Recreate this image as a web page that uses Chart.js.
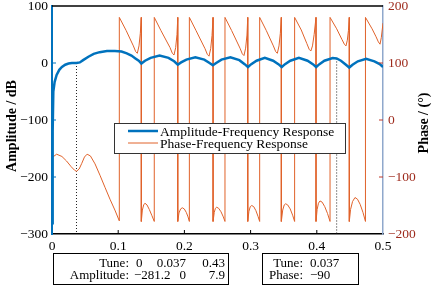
<!DOCTYPE html>
<html>
<head>
<meta charset="utf-8">
<script src="https://cdn.jsdelivr.net/npm/chart.js@4.4.1/dist/chart.umd.min.js"></script>
<style>
  html, body { margin: 0; padding: 0; background: #fff; }
</style>
</head>
<body>
<canvas id="freqChart" width="440" height="293"></canvas>
<script>
// Amplitude-frequency response (dB)
const ampX = [0, 0.001, 0.002, 0.004, 0.007, 0.011, 0.015, 0.02, 0.025, 0.03, 0.037, 0.042, 0.047, 0.055, 0.063, 0.072, 0.083, 0.095, 0.105, 0.113, 0.12, 0.126, 0.131, 0.135,
  0.1405, 0.149, 0.1625, 0.176, 0.1845, 0.19,
  0.195, 0.203, 0.2165, 0.23, 0.238, 0.243,
  0.248, 0.256, 0.2695, 0.283, 0.291, 0.296,
  0.301, 0.309, 0.3215, 0.334, 0.342, 0.347,
  0.352, 0.36, 0.373, 0.386, 0.394, 0.399,
  0.404, 0.4115, 0.424, 0.43, 0.4365, 0.444, 0.449,
  0.454, 0.462, 0.4745, 0.487, 0.495, 0.5];
const ampY = [-281.2, -120, -50, -33, -21, -12, -7, -3, -1, 0, 0, 1, 5, 11, 16, 19, 21, 21, 20, 17, 13, 8, 4, -1,
  4, 9, 13, 9, 3, -3,
  1, 6, 10, 6, 0, -4,
  0, 6, 10, 5, -2, -7,
  -2, 4, 9, 4, -2, -7,
  -2, 4, 9, 4, -2, -7,
  -2, 4, 8.7, 7.9, 4, -3, -8,
  -3, 3, 7.5, 3, -2, -7];

// Phase-frequency response (deg), wraps at +/-180
const phaseX = [0, 0.007, 0.015, 0.022, 0.029, 0.034, 0.037, 0.041, 0.045, 0.049, 0.053, 0.058, 0.065, 0.0725, 0.08, 0.0876, 0.095, 0.1017,
  0.1017, 0.112, 0.1229, 0.1264, 0.1289, 0.1314, 0.1334, 0.1349,
  0.1349, 0.1365, 0.1385, 0.1404, 0.1435, 0.147, 0.151, 0.1545,
  0.1545, 0.1645, 0.1783, 0.1818, 0.1843, 0.1868, 0.1888, 0.19,
  0.19, 0.1918, 0.1943, 0.1968, 0.1998, 0.2028, 0.2055, 0.2075,
  0.2075, 0.2175, 0.2312, 0.2347, 0.2372, 0.2397, 0.2417, 0.2433,
  0.2433, 0.2451, 0.2468, 0.2488, 0.2518, 0.2553, 0.2588, 0.2613,
  0.2613, 0.2713, 0.284, 0.2875, 0.29, 0.2925, 0.2945, 0.2957,
  0.2957, 0.2975, 0.2995, 0.3017, 0.3047, 0.308, 0.3112, 0.3137,
  0.3137, 0.3237, 0.3344, 0.3379, 0.3404, 0.3429, 0.3449, 0.3464,
  0.3464, 0.3485, 0.3508, 0.353, 0.356, 0.3598, 0.3635, 0.3665,
  0.3665, 0.3765, 0.385, 0.3885, 0.391, 0.3935, 0.396, 0.3988,
  0.3988, 0.4005, 0.4025, 0.4048, 0.408, 0.412, 0.4162, 0.42,
  0.42, 0.43, 0.4381, 0.4416, 0.4441, 0.4461, 0.4478, 0.4491,
  0.4491, 0.451, 0.454, 0.4577, 0.4615, 0.4655, 0.4697, 0.4735,
  0.4735, 0.4835, 0.4895, 0.493, 0.4955, 0.4975, 0.5];
const phaseY = [-66, -60, -64, -72, -82, -88, -90, -86, -76, -65, -60, -63, -77, -97, -118, -139, -158, -177,
  180, 157, 130, 120, 117, 130, 152, 180,
  -178, -158, -149, -146, -149, -157, -168, -178,
  180, 157, 127, 117, 114, 127, 150, 180,
  -178, -163, -156, -154, -156, -162, -170, -178,
  180, 157, 125, 115, 112, 125, 148, 180,
  -178, -162, -155, -153, -155, -161, -170, -178,
  180, 157, 126, 116, 113, 126, 149, 180,
  -178, -160, -152, -150, -152, -159, -169, -178,
  180, 157, 130, 120, 117, 130, 152, 180,
  -178, -158, -149, -147, -149, -156, -167, -178,
  180, 158, 134, 124, 121, 130, 150, 180,
  -178, -157, -146, -142, -144, -152, -164, -178,
  180, 160, 141, 133, 130, 140, 157, 180,
  -178, -157, -143, -136, -139, -148, -162, -178,
  180, 160, 146, 137, 133, 145, 170];

// data cursor readouts
const tuneVals = [0, 0.037, 0.43];
const ampVals = [-281.2, 0, 7.9];
const phaseTune = 0.037;
const phaseVal = -90;

const BLUE = '#0072BD';
const ORANGE = '#E0622A';
const DARKRED = '#9E2B1D';
const SERIF = '"Liberation Serif", "Times New Roman", serif';

const minus = v => String(v).replace('-', '\u2212');

const ampData = ampX.map((x, i) => ({ x: x, y: ampY[i] }));
const phaseData = phaseX.map((x, i) => ({ x: x, y: phaseY[i] }));

// dotted cursor lines at the 2nd and 3rd tune
const cursorSets = [1, 2].map(i => ({
  label: 'cursor' + i,
  data: [{ x: tuneVals[i], y: ampVals[i] }, { x: tuneVals[i], y: -300 }],
  yAxisID: 'y',
  borderColor: '#222',
  borderWidth: 1,
  borderDash: [1, 2],
  pointRadius: 0
}));

const decorPlugin = {
  id: 'decor',
  afterDraw(chart) {
    const { ctx, chartArea: a, scales } = chart;
    const sx = scales.x, sy = scales.y, sy2 = scales.y2;
    ctx.save();

    // top frame line
    ctx.strokeStyle = '#000';
    ctx.lineWidth = 1.5;
    ctx.beginPath();
    ctx.moveTo(a.left, a.top);
    ctx.lineTo(a.right, a.top);
    ctx.stroke();

    // inward ticks
    ctx.lineWidth = 1;
    ctx.strokeStyle = '#000';
    sx.ticks.forEach(t => {
      const px = sx.getPixelForValue(t.value);
      if (px <= a.left + 1 || px >= a.right - 1) return;
      ctx.beginPath(); ctx.moveTo(px, a.bottom); ctx.lineTo(px, a.bottom - 4); ctx.stroke();
    });
    ctx.strokeStyle = BLUE;
    sy.ticks.forEach(t => {
      const py = sy.getPixelForValue(t.value);
      if (py <= a.top + 1 || py >= a.bottom - 1) return;
      ctx.beginPath(); ctx.moveTo(a.left, py); ctx.lineTo(a.left + 4, py); ctx.stroke();
    });
    ctx.strokeStyle = '#C0392B';
    sy2.ticks.forEach(t => {
      const py = sy2.getPixelForValue(t.value);
      if (py <= a.top + 1 || py >= a.bottom - 1) return;
      ctx.beginPath(); ctx.moveTo(a.right, py); ctx.lineTo(a.right - 4, py); ctx.stroke();
    });

    // axis titles, both reading bottom to top
    ctx.fillStyle = '#000';
    ctx.font = 'bold 14px ' + SERIF;
    ctx.textAlign = 'center';
    ctx.textBaseline = 'middle';
    [['Amplitude / dB', 12, 126], ['Phase / (\u00B0)', 424, 123]].forEach(([txt, cx, cy]) => {
      ctx.save();
      ctx.translate(cx, cy);
      ctx.rotate(-Math.PI / 2);
      ctx.fillText(txt, 0, 0);
      ctx.restore();
    });

    // legend box inside the plot
    const lg = { x: 114, y: 123, w: 231, h: 30 };
    ctx.fillStyle = '#fff';
    ctx.fillRect(lg.x, lg.y, lg.w, lg.h);
    ctx.strokeStyle = '#333';
    ctx.lineWidth = 1;
    ctx.strokeRect(lg.x + 0.5, lg.y + 0.5, lg.w, lg.h);
    ctx.font = '13.5px ' + SERIF;
    ctx.textAlign = 'left';
    chart.data.datasets.slice(0, 2).forEach((ds, i) => {
      const yy = lg.y + 8 + i * 12;
      ctx.strokeStyle = ds.borderColor;
      ctx.lineWidth = ds.borderWidth;
      ctx.beginPath(); ctx.moveTo(lg.x + 14, yy); ctx.lineTo(lg.x + 44, yy); ctx.stroke();
      ctx.fillStyle = '#000';
      ctx.fillText(ds.label, lg.x + 46, yy + 1);
    });

    // readout boxes under the axis
    ctx.font = '13px ' + SERIF;
    ctx.strokeStyle = '#000';
    ctx.lineWidth = 1;
    ctx.strokeRect(53.5, 253.5, 175, 31);
    ctx.strokeRect(262.5, 253.5, 96, 31);
    ctx.fillStyle = '#000';
    const r1 = 263.5, r2 = 276;
    ctx.textAlign = 'right';
    ctx.fillText('Tune:', 129, r1);
    ctx.fillText('Amplitude:', 129, r2);
    ctx.textAlign = 'left';
    ctx.fillText(minus(tuneVals[0]), 136, r1);
    ctx.fillText(minus(ampVals[0]), 134, r2);
    ctx.textAlign = 'right';
    ctx.fillText(String(tuneVals[1]), 186, r1);
    ctx.fillText(minus(ampVals[1]), 186, r2);
    ctx.fillText(String(tuneVals[2]), 225, r1);
    ctx.fillText(minus(ampVals[2]), 225, r2);
    ctx.fillText('Tune:', 303, r1);
    ctx.fillText('Phase:', 303, r2);
    ctx.textAlign = 'left';
    ctx.fillText(String(phaseTune), 310, r1);
    ctx.fillText(minus(phaseVal), 310, r2);

    ctx.restore();
  }
};

const fixTop = s => { s.paddingTop = 6; s.paddingBottom = 0; };

const ctx = document.getElementById('freqChart').getContext('2d');
const freqChart = new Chart(ctx, {
  type: 'line',
  data: {
    datasets: [
      {
        label: 'Amplitude-Frequency Response',
        data: ampData,
        yAxisID: 'y',
        borderColor: BLUE,
        borderWidth: 2.5,
        pointRadius: 0,
        tension: 0
      },
      {
        label: 'Phase-Frequency Response',
        data: phaseData,
        yAxisID: 'y2',
        borderColor: ORANGE,
        borderWidth: 1,
        pointRadius: 0,
        tension: 0
      },
      ...cursorSets
    ]
  },
  options: {
    responsive: false,
    animation: false,
    layout: { padding: 0 },
    scales: {
      x: {
        type: 'linear',
        min: 0,
        max: 0.5,
        grid: { display: false, drawTicks: false },
        border: { display: true, color: '#000', width: 1.5 },
        ticks: { stepSize: 0.1, padding: 4, color: '#000', font: { family: SERIF, size: 13.5 } },
        afterFit: s => { s.height = 59; }
      },
      y: {
        position: 'left',
        min: -300,
        max: 100,
        grid: { display: false, drawTicks: false },
        border: { display: true, color: BLUE, width: 2 },
        ticks: { stepSize: 100, padding: 4, color: '#000', font: { family: SERIF, size: 13.5 }, callback: v => minus(v) },
        afterFit: s => { s.width = 52; fixTop(s); }
      },
      y2: {
        position: 'right',
        min: -200,
        max: 200,
        grid: { display: false, drawTicks: false },
        border: { display: true, color: '#8FA8CC', width: 1.5 },
        ticks: { stepSize: 100, padding: 5, color: DARKRED, font: { family: SERIF, size: 13.5 }, callback: v => minus(v) },
        afterFit: s => { s.width = 57; fixTop(s); }
      }
    },
    plugins: {
      legend: { display: false },
      tooltip: { enabled: false }
    }
  },
  plugins: [decorPlugin]
});
</script>
</body>
</html>
